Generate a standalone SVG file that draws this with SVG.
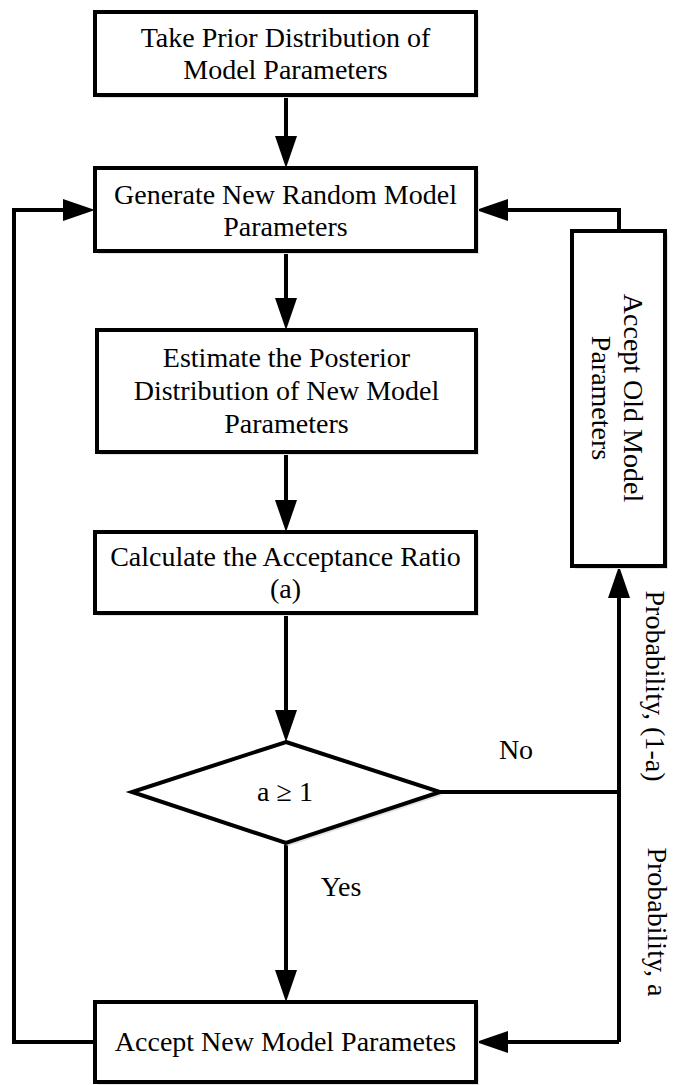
<svg xmlns="http://www.w3.org/2000/svg" width="675" height="1085" viewBox="0 0 675 1085">
<defs>
<style>
.box{fill:#ffffff;stroke:#000000;stroke-width:4}
.shadow{fill:#e2e2e2;stroke:none}
.lbl{font-family:"Liberation Serif","Times New Roman",serif;font-size:28px;fill:#000000;text-anchor:middle}
.edge{fill:none;stroke:#000000;stroke-width:4}
.arr{marker-end:url(#ah)}
</style>
<marker id="ah" markerUnits="userSpaceOnUse" markerWidth="32" markerHeight="22" refX="24" refY="11" orient="auto">
<path d="M0,0 L32,11 L0,22 Z" fill="#000000"/>
</marker>
</defs>
<rect width="675" height="1085" fill="#ffffff"/>

<g id="connectors">
<path class="edge arr" d="M286,95 L286,160"/>
<path class="edge arr" d="M286,251 L286,322"/>
<path class="edge arr" d="M286,452 L286,524"/>
<path class="edge arr" d="M286,613 L286,734"/>
<path class="edge arr" d="M286,843 L286,994"/>
<path class="edge" d="M440,792 L619,792"/>
<path class="edge arr" d="M619,1042 L619,574"/>
<path class="edge arr" d="M619,1042 L484,1042"/>
<path class="edge arr" d="M619,231 L619,210 L484,210"/>
<path class="edge arr" d="M95,1042 L14,1042 L14,210 L87,210"/>
</g>

<g id="n1">
<rect class="shadow" x="98" y="15" width="381" height="83"/>
<rect class="box" x="95" y="12" width="381" height="83"/>
<text class="lbl" x="285.5" y="47">Take Prior Distribution of</text>
<text class="lbl" x="285.5" y="79">Model Parameters</text>
</g>

<g id="n2">
<rect class="shadow" x="98" y="171" width="381" height="83"/>
<rect class="box" x="95" y="168" width="381" height="83"/>
<text class="lbl" x="285.5" y="204">Generate New Random Model</text>
<text class="lbl" x="285.5" y="236">Parameters</text>
</g>

<g id="n3">
<rect class="shadow" x="100" y="333" width="379" height="122"/>
<rect class="box" x="97" y="330" width="379" height="122"/>
<text class="lbl" x="286.5" y="367">Estimate the Posterior</text>
<text class="lbl" x="286.5" y="400">Distribution of New Model</text>
<text class="lbl" x="286.5" y="433">Parameters</text>
</g>

<g id="n4">
<rect class="shadow" x="98" y="535" width="381" height="81"/>
<rect class="box" x="95" y="532" width="381" height="81"/>
<text class="lbl" x="285.5" y="566">Calculate the Acceptance Ratio</text>
<text class="lbl" x="285.5" y="598">(a)</text>
</g>

<g id="n5">
<polygon class="shadow" points="289,745 443,795 289,846 135,795"/>
<polygon class="box" points="286,742 440,792 286,843 132,792"/>
<text class="lbl" x="285" y="801">a ≥ 1</text>
</g>

<g id="n6">
<rect class="shadow" x="98" y="1005" width="381" height="80"/>
<rect class="box" x="95" y="1002" width="381" height="80"/>
<text class="lbl" x="285.5" y="1051">Accept New Model Parametes</text>
</g>

<g id="n7">
<rect class="shadow" x="575" y="234" width="93" height="335"/>
<rect class="box" x="572" y="231" width="93" height="335"/>
<text class="lbl" transform="translate(624,398) rotate(90)">Accept Old Model</text>
<text class="lbl" transform="translate(592,398) rotate(90)">Parameters</text>
</g>

<g id="labels">
<text class="lbl" x="516" y="759">No</text>
<text class="lbl" x="341" y="896">Yes</text>
<text class="lbl" transform="translate(646,686) rotate(90)">Probability, (1-a)</text>
<text class="lbl" transform="translate(648,922) rotate(90)">Probability, a</text>
</g>
</svg>
